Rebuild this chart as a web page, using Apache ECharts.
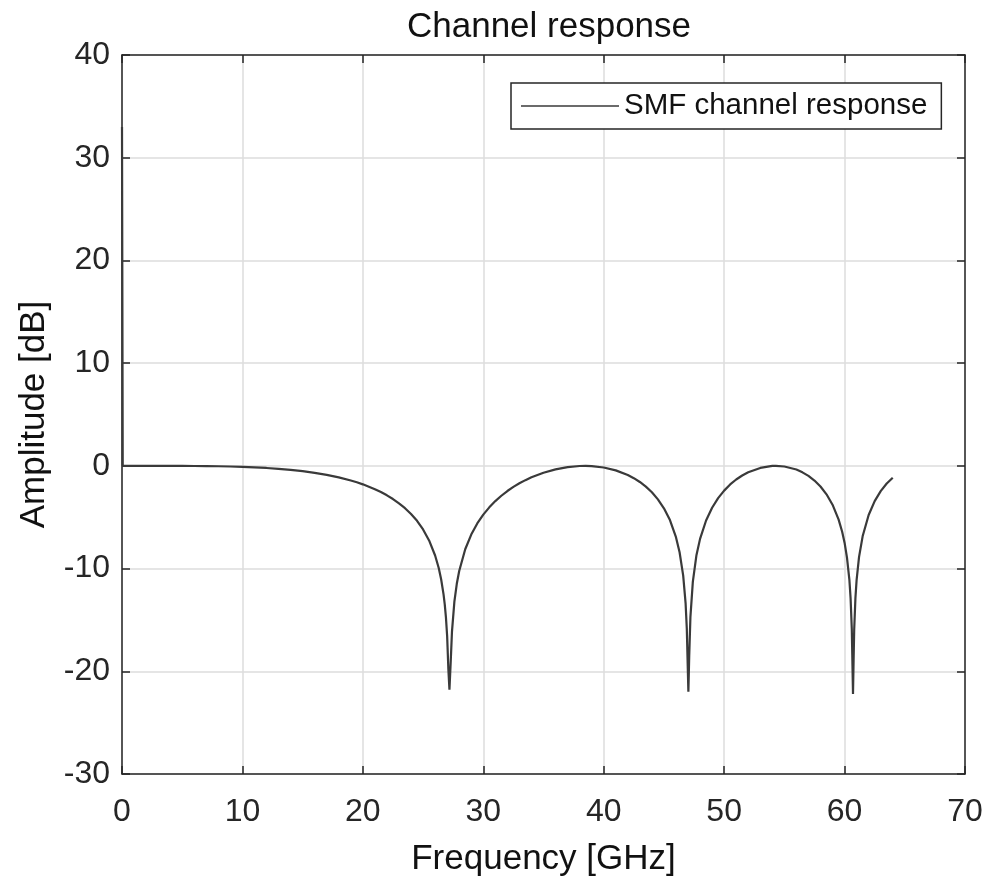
<!DOCTYPE html>
<html>
<head>
<meta charset="utf-8">
<script src="https://cdn.jsdelivr.net/npm/echarts@6/dist/echarts.min.js"></script>
<style>
  html, body { margin: 0; padding: 0; background: #fff; }
  #chart { width: 990px; height: 887px; }
</style>
</head>
<body>
<div id="chart"></div>
<script>
// frequency [GHz] and amplitude [dB]
var freq = [0, 0.06, 1, 2, 3, 4, 5, 6, 7, 8, 9, 10, 11, 12, 13, 14, 15, 16, 17, 18, 19, 19.5,
    20, 20.5, 21, 21.5, 22, 22.5, 23, 23.5, 24, 24.5, 25, 25.5, 26, 26.3, 26.5, 26.7, 26.8, 26.9,
    27, 27.1, 27.19, 27.3, 27.4, 27.6, 27.8, 28, 28.5, 29, 29.5, 30, 30.5, 31, 31.5, 32, 32.5,
    33, 33.5, 34, 35, 36, 37, 38, 38.5, 39, 40, 41, 42, 42.5, 43, 43.5, 44, 44.5, 45, 45.5,
    46, 46.3, 46.6, 46.8, 46.9, 46.97, 47.03, 47.1, 47.2, 47.4, 47.7, 48, 48.5, 49, 49.5, 50,
    50.5, 51, 51.5, 52, 53, 54, 54.3, 55, 56, 56.5, 57, 57.5, 58, 58.5, 59, 59.5, 59.8, 60,
    60.2, 60.4, 60.5, 60.6, 60.7, 60.75, 60.8, 60.9, 61, 61.2, 61.5, 62, 62.5, 63, 63.5, 64];
var amp = [33, 0, 0, 0, -0.001, -0.003, -0.006, -0.013, -0.023, -0.04, -0.065, -0.099, -0.145,
    -0.206, -0.286, -0.388, -0.516, -0.676, -0.875, -1.12, -1.43, -1.6,
    -1.8, -2.03, -2.27, -2.55, -2.87, -3.23, -3.65, -4.12, -4.69, -5.35, -6.19, -7.26, -8.73,
    -9.95, -11.04, -12.51, -13.49, -14.77,
    -16.6, -19.8, -21.8, -18.95, -16.14, -13.21, -11.48, -10.23, -8.12, -6.69, -5.61, -4.75,
    -4.04, -3.43, -2.91, -2.45, -2.05,
    -1.7, -1.39, -1.11, -0.67, -0.34, -0.12, -0.012, 0, -0.02, -0.16, -0.44, -0.89, -1.2,
    -1.57, -2.02, -2.57, -3.26, -4.13, -5.28,
    -6.94, -8.41, -10.69, -13.39, -15.87, -19.2, -22.0, -18.5, -14.7, -11.3, -8.7, -7.11,
    -5.32, -4.08, -3.14, -2.41,
    -1.81, -1.33, -0.94, -0.63, -0.2, -0.01, 0, -0.06, -0.36, -0.63, -0.98, -1.43, -2.01,
    -2.77, -3.78, -5.21, -6.41, -7.48,
    -8.93, -11.1, -12.9, -15.9, -22.2, -18.9, -15.9, -12.9, -11.1, -8.88, -6.86, -4.78,
    -3.43, -2.46, -1.72, -1.15];

var xTicks = [0, 10, 20, 30, 40, 50, 60, 70];
var yTicks = [-30, -20, -10, 0, 10, 20, 30, 40];

var points = [];
for (var i = 0; i < freq.length; i++) {
    points.push([freq[i], amp[i]]);
}

var font = 'Liberation Sans';
var dark = '#262626';

// box axes: same scale, no labels, ticks pointing in
function boxAxis(pos, ticks) {
    return {
        type: 'value',
        position: pos,
        min: ticks[0],
        max: ticks[ticks.length - 1],
        interval: 10,
        axisLine: { show: true, onZero: false, lineStyle: { color: dark, width: 1.5 } },
        axisTick: { show: true, inside: true, length: 8, lineStyle: { color: dark, width: 1.5 } },
        axisLabel: { show: false },
        splitLine: { show: false }
    };
}

var myChart = echarts.init(document.getElementById('chart'));
var option = {
    backgroundColor: '#fff',
    animation: false,
    title: {
        text: 'Channel response',
        left: 544,
        textAlign: 'center',
        top: 5,
        textStyle: { fontFamily: font, fontSize: 35, fontWeight: 'normal', color: '#111' }
    },
    legend: {
        data: ['SMF channel response'],
        left: 511,
        top: 83,
        padding: [8, 14, 8, 10],
        icon: 'rect',
        itemWidth: 98,
        itemHeight: 1.5,
        itemGap: 0,
        itemTextGap: 7,
        backgroundColor: '#fff',
        borderColor: dark,
        borderWidth: 1.5,
        textStyle: { fontFamily: font, fontSize: 29.5, color: '#111' }
    },
    grid: {
        left: 122,
        right: 25,
        top: 55,
        bottom: 113
    },
    xAxis: [{
        type: 'value',
        min: xTicks[0],
        max: xTicks[xTicks.length - 1],
        interval: 10,
        name: 'Frequency [GHz]',
        nameLocation: 'middle',
        nameGap: 68,
        nameTextStyle: { fontFamily: font, fontSize: 35, color: '#111' },
        axisLine: { show: true, onZero: false, lineStyle: { color: dark, width: 1.5 } },
        axisTick: { show: true, inside: true, length: 8, lineStyle: { color: dark, width: 1.5 } },
        axisLabel: { fontFamily: font, fontSize: 32, color: dark, margin: 22 },
        splitLine: { show: true, lineStyle: { color: '#dcdcdc', width: 1.5 } }
    }, boxAxis('top', xTicks)],
    yAxis: [{
        type: 'value',
        min: yTicks[0],
        max: yTicks[yTicks.length - 1],
        interval: 10,
        name: 'Amplitude [dB]',
        nameLocation: 'middle',
        nameGap: 70,
        nameTextStyle: { fontFamily: font, fontSize: 35, color: '#111' },
        axisLine: { show: true, onZero: false, lineStyle: { color: dark, width: 1.5 } },
        axisTick: { show: true, inside: true, length: 8, lineStyle: { color: dark, width: 1.5 } },
        axisLabel: { fontFamily: font, fontSize: 32, color: dark, margin: 12 },
        splitLine: { show: true, lineStyle: { color: '#dcdcdc', width: 1.5 } }
    }, boxAxis('right', yTicks)],
    series: [{
        name: 'SMF channel response',
        type: 'line',
        symbol: 'none',
        xAxisIndex: 0,
        yAxisIndex: 0,
        lineStyle: { color: '#3a3a3a', width: 2.2 },
        itemStyle: { color: '#3a3a3a' },
        data: points
    }]
};
myChart.setOption(option, true);
</script>
</body>
</html>
